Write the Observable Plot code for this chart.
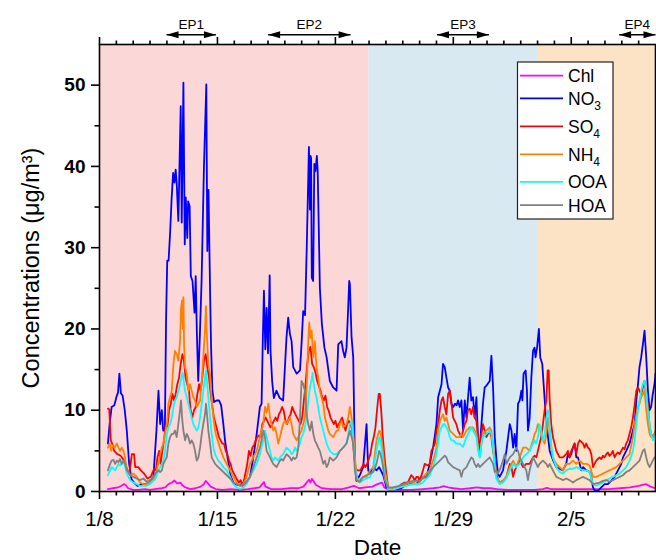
<!DOCTYPE html>
<html><head><meta charset="utf-8">
<script src="https://cdn.jsdelivr.net/npm/d3@7"></script>
<script src="https://cdn.jsdelivr.net/npm/@observablehq/plot@0.6"></script>
<style>
body{margin:0;background:#fff;}
#wrap{position:relative;width:656px;height:560px;font-family:"Liberation Sans",Arial,sans-serif;}
</style></head>
<body><div id="wrap"></div>
<script>
// x values: days since 1/8 00:00
const xTickDays = [0, 7, 14, 21, 28];
const xTickLabels = ["1/8", "1/15", "1/22", "1/29", "2/5"];
const yTicks = [0, 10, 20, 30, 40, 50];
const yMinorTicks = [5, 15, 25, 35, 45];

const periodStart = [0, 16, 26];
const periodEnd = [16, 26, 33];

const epLabels = ["EP1", "EP2", "EP3", "EP4"];
const epStart = [3.98, 10.01, 20.03, 30.84];
const epEnd = [6.91, 14.9, 23.11, 33.0];

const seriesNames = ["Chl", "NO3", "SO4", "NH4", "OOA", "HOA"];

const Chl = [[0.5,0.3],[0.8,0.4],[1.1,0.5],[1.3,0.7],[1.45,0.9],[1.55,0.8],[1.7,0.4],[2.0,0.2],[2.3,0.2],[2.7,0.3],[3.0,0.2],[3.3,0.3],[3.7,0.4],[3.9,0.5],[4.1,0.9],[4.3,1.1],[4.45,1.35],[4.6,1.0],[4.8,1.1],[4.9,0.8],[5.1,0.5],[5.4,0.3],[5.7,0.4],[6.0,0.6],[6.2,0.9],[6.3,1.3],[6.4,1.1],[6.6,0.6],[6.9,0.3],[7.3,0.2],[7.8,0.3],[8.3,0.2],[8.8,0.3],[9.2,0.4],[9.5,0.5],[9.76,1.15],[9.85,0.6],[10.2,0.3],[10.8,0.3],[11.3,0.4],[11.8,0.4],[12.1,0.6],[12.3,1.1],[12.43,1.45],[12.52,1.1],[12.6,1.55],[12.7,1.3],[12.85,0.8],[13.2,0.4],[13.8,0.3],[14.4,0.3],[14.8,0.5],[15.1,0.7],[15.4,0.4],[15.8,0.5],[16.2,0.6],[16.5,0.9],[16.77,1.1],[16.9,0.5],[17.2,0.2],[17.8,0.2],[18.5,0.2],[19.2,0.3],[19.8,0.4],[20.2,0.5],[20.43,0.65],[20.7,0.5],[21.0,0.4],[21.5,0.3],[22.0,0.4],[22.4,0.5],[22.8,0.4],[23.2,0.4],[23.6,0.3],[24.2,0.2],[25.0,0.2],[25.8,0.2],[26.3,0.3],[26.55,0.45],[26.8,0.3],[27.3,0.3],[28.0,0.3],[28.7,0.3],[29.4,0.3],[30.2,0.3],[30.9,0.4],[31.5,0.5],[32.0,0.7],[32.29,0.85],[32.45,0.9],[32.7,0.6],[33.0,0.4]];

const NO3 = [[0.5,5.9],[0.6,8.3],[0.72,10.4],[0.88,10.6],[1.0,11.6],[1.1,12.2],[1.18,14.5],[1.27,12.1],[1.37,11.8],[1.5,10],[1.62,7.5],[1.76,3.4],[1.9,1.5],[2.05,1.1],[2.25,0.7],[2.5,0.9],[2.75,0.9],[3.0,1.1],[3.2,1.8],[3.38,7.5],[3.5,12.4],[3.6,8.3],[3.7,10],[3.78,7.5],[3.88,7.5],[3.95,21],[4.02,28.4],[4.1,28.4],[4.19,31.8],[4.28,36],[4.37,39.2],[4.45,38],[4.52,39.6],[4.58,38],[4.68,33.3],[4.82,47.4],[4.88,33.1],[4.98,50.3],[5.06,30.4],[5.12,36.2],[5.21,31.2],[5.26,35.7],[5.35,35.1],[5.42,26.5],[5.52,25.9],[5.64,22],[5.71,26.5],[5.78,19.4],[5.86,13.6],[5.96,19.4],[6.06,26],[6.2,40],[6.34,50.1],[6.4,29.6],[6.47,37.1],[6.56,25],[6.62,18],[6.7,12.4],[6.8,11],[6.95,11.2],[7.1,11.2],[7.22,10.6],[7.35,8.3],[7.45,6.3],[7.6,4.2],[7.8,1.8],[8.0,0.9],[8.3,0.8],[8.5,0.9],[8.75,1.2],[8.93,1.8],[9.13,4.2],[9.33,7.1],[9.52,10.4],[9.62,10.8],[9.7,19.4],[9.76,24.7],[9.84,17.5],[9.92,22.6],[10.0,17],[10.1,26.6],[10.15,17.3],[10.25,13.5],[10.35,11.5],[10.5,12.4],[10.7,11.5],[10.9,11.2],[11.1,19],[11.2,21.4],[11.3,19.4],[11.4,18.5],[11.5,15.3],[11.7,14.5],[11.9,14.9],[12.0,18.5],[12.09,22.2],[12.2,21.7],[12.3,30],[12.43,42.4],[12.49,34.7],[12.52,41.3],[12.56,41],[12.6,26.3],[12.68,25.9],[12.75,40.3],[12.82,39.4],[12.9,41.3],[12.95,39.4],[13.0,34],[13.08,25],[13.2,20.6],[13.35,17.7],[13.48,16.5],[13.67,13.6],[13.87,12.8],[14.07,12.4],[14.17,18.1],[14.36,18.5],[14.46,17.3],[14.56,16.5],[14.66,17.7],[14.76,22.6],[14.82,25.9],[14.86,25.5],[14.96,19],[15.06,16.5],[15.16,3.4],[15.25,1.3],[15.45,2.0],[15.65,3],[15.85,8.3],[15.95,2.6],[16.05,2.2],[16.25,3],[16.44,2.6],[16.6,3],[16.84,2],[17.03,0.5],[17.3,0.3],[17.6,0.3],[17.9,0.4],[18.2,0.8],[18.4,1.1],[18.8,0.9],[19.2,1.8],[19.4,1.8],[19.6,3.4],[19.8,5.4],[20.0,8.3],[20.1,11.6],[20.2,12.4],[20.3,13.2],[20.39,15.7],[20.49,15.3],[20.59,14],[20.69,12.8],[20.79,12.4],[20.89,10.8],[21.0,10.4],[21.1,10.8],[21.2,10.6],[21.28,11.2],[21.38,10.4],[21.48,11.2],[21.58,7.5],[21.68,11.2],[21.78,9.1],[21.97,14],[22.07,11.2],[22.17,11.6],[22.27,9.1],[22.37,11.6],[22.47,6.3],[22.57,5.4],[22.67,8.3],[22.76,10.8],[22.86,12.8],[22.96,13],[23.16,13.6],[23.26,16.7],[23.36,12.8],[23.46,6.7],[23.55,4.2],[23.65,2.2],[23.75,1.8],[23.95,2.6],[24.15,5],[24.35,8.3],[24.45,7.5],[24.55,5.4],[24.64,7.1],[24.74,5],[24.84,10.8],[24.94,11.2],[25.04,12.4],[25.1,11.2],[25.17,14.5],[25.29,14.9],[25.37,12.4],[25.43,7.5],[25.53,9],[25.63,14],[25.73,17.3],[25.82,17.7],[25.88,16.5],[25.97,17.7],[26.08,20],[26.16,16.5],[26.28,15.7],[26.36,13.2],[26.48,9.5],[26.62,6.7],[26.72,5],[26.93,3.8],[27.11,3],[27.31,2.8],[27.5,2.6],[27.7,3.4],[27.8,4.6],[27.9,4.2],[28.0,4.6],[28.1,5.4],[28.2,5.9],[28.3,4.2],[28.4,4.2],[28.5,3.4],[28.6,2.6],[28.7,3],[28.9,2.6],[29.1,2.4],[29.19,1.8],[29.29,0.5],[29.4,0.1],[29.6,0.1],[29.78,0.5],[29.98,0.9],[30.17,0.9],[30.37,1.3],[30.57,1.8],[30.77,2.6],[30.97,3.4],[31.07,4.2],[31.26,5],[31.46,5.9],[31.66,7.5],[31.76,8.3],[31.86,11.2],[31.96,13.2],[32.05,15.3],[32.15,16.5],[32.25,18.1],[32.35,19.8],[32.45,16.5],[32.55,12.4],[32.65,10],[32.74,10.4],[32.84,12],[32.94,13.2],[33.0,14.5]];

const SO4 = [[0.5,10.2],[0.58,10.1],[0.67,6.3],[0.75,5.9],[0.87,5],[1.06,4.6],[1.26,4.4],[1.46,3.8],[1.66,2.6],[1.76,2.2],[1.85,3.4],[1.92,4.6],[2.05,4.6],[2.12,3],[2.3,3],[2.45,2.6],[2.65,2.2],[2.84,1.6],[3.04,1.8],[3.24,2.8],[3.35,2.6],[3.44,4.2],[3.54,5],[3.63,3.4],[3.73,5],[3.83,6.3],[3.93,8.3],[4.03,8],[4.13,10],[4.23,10.8],[4.33,12],[4.43,11.2],[4.52,12],[4.62,13.2],[4.72,14],[4.82,15.7],[4.92,16.9],[5.01,16.1],[5.11,14],[5.21,13.2],[5.31,12.4],[5.41,10],[5.51,9.1],[5.61,10],[5.71,10.4],[5.81,12],[5.91,13.2],[6.0,12.4],[6.1,14],[6.2,16.1],[6.3,16.9],[6.4,15.3],[6.5,14],[6.6,12],[6.7,10.4],[6.79,9.1],[6.89,8.3],[6.99,7.5],[7.09,6.7],[7.19,6.3],[7.29,5.9],[7.39,5.9],[7.49,5],[7.59,4.6],[7.69,3.8],[7.78,3.4],[7.88,2.6],[7.98,2.2],[8.18,1.4],[8.28,1.1],[8.38,1.4],[8.48,0.7],[8.58,1.4],[8.77,3.4],[8.87,5],[8.97,4.4],[9.07,5.4],[9.17,5.7],[9.27,6.3],[9.36,6.7],[9.46,6.9],[9.56,6.7],[9.66,8.3],[9.76,8.7],[9.86,9.1],[9.96,8.7],[10.05,8.3],[10.15,7.9],[10.25,8.3],[10.35,8.7],[10.45,9.1],[10.55,8.7],[10.65,9.5],[10.75,9.9],[10.84,10.4],[10.94,9.9],[11.04,8.7],[11.14,8.3],[11.24,9.1],[11.34,9.5],[11.44,10.4],[11.54,9.9],[11.63,9.5],[11.73,9.1],[11.83,8.7],[11.93,8.3],[12.03,9.1],[12.13,11.2],[12.23,13.2],[12.33,15.7],[12.42,17.3],[12.52,17.8],[12.62,15.7],[12.72,15.3],[12.82,14.6],[12.92,13.6],[13.02,13],[13.12,12.4],[13.22,11.6],[13.31,11.2],[13.41,11.8],[13.51,10.4],[13.61,9.9],[13.71,9.1],[13.81,8.7],[13.91,8.3],[14.0,8.7],[14.1,7.9],[14.2,8.3],[14.3,8.7],[14.4,9.1],[14.5,8.3],[14.6,7.5],[14.7,8.3],[14.8,8.7],[14.9,8.3],[15.0,7.5],[15.09,5],[15.19,3],[15.29,2.6],[15.48,2.6],[15.58,3],[15.68,3.4],[15.78,3],[15.88,3.4],[15.98,4],[16.08,4.6],[16.18,5.9],[16.28,6.7],[16.38,7.9],[16.47,10],[16.57,12],[16.64,12],[16.72,10],[16.8,7.1],[16.9,4.6],[17.0,2.6],[17.13,0.5],[17.3,0.4],[17.53,0.4],[17.7,0.5],[17.92,0.9],[18.1,1.1],[18.3,1.1],[18.5,2],[18.61,1.8],[18.71,1.3],[18.81,1.8],[18.91,1.8],[19.0,1.3],[19.2,2.6],[19.3,3.4],[19.5,3.2],[19.6,3.4],[19.7,5],[19.8,5.4],[19.9,5.9],[20.0,7.5],[20.1,8.3],[20.2,10],[20.3,11.2],[20.39,11.6],[20.49,10.4],[20.59,9.5],[20.69,12],[20.79,12.4],[20.89,10.8],[20.99,9.1],[21.18,8.3],[21.28,7.5],[21.38,7.1],[21.48,6.7],[21.58,7.5],[21.68,8.3],[21.78,8.7],[21.87,10],[21.97,10.2],[22.07,9.5],[22.17,10.4],[22.27,9.1],[22.37,8.7],[22.47,6.7],[22.57,4.6],[22.67,7.1],[22.76,8.3],[22.86,7.5],[22.96,6.7],[23.06,7.1],[23.16,7.5],[23.26,6.7],[23.36,5],[23.46,3.8],[23.55,2.2],[23.65,1.4],[23.75,1.1],[23.95,1.3],[24.15,1.8],[24.35,3.4],[24.45,3],[24.55,1.8],[24.65,2.6],[24.74,3],[24.94,3.8],[25.14,3],[25.33,3.4],[25.53,3.4],[25.73,4.2],[25.83,4.4],[25.93,4.2],[26.02,5],[26.12,5.9],[26.22,6.7],[26.32,8.3],[26.42,10],[26.52,11.2],[26.6,14.9],[26.66,14.9],[26.72,11.2],[26.81,8.3],[26.91,6.7],[27.01,5.9],[27.11,5],[27.21,4.6],[27.31,4.2],[27.5,4.2],[27.7,4.6],[27.8,5],[27.9,4.2],[28.0,5],[28.1,5.4],[28.2,5.9],[28.3,4.6],[28.4,5.9],[28.5,6.3],[28.6,6.1],[28.7,5.9],[28.79,5.4],[28.89,5.9],[28.99,5.4],[29.09,5.2],[29.19,4.6],[29.29,3],[29.38,3.4],[29.48,3.8],[29.58,4],[29.68,4.2],[29.78,4],[29.88,4.4],[29.98,4.2],[30.08,4.6],[30.17,4.8],[30.27,4.4],[30.37,4.6],[30.47,5],[30.57,4.2],[30.67,4.6],[30.77,4.8],[30.87,4.6],[30.97,5],[31.07,5.4],[31.16,5.2],[31.26,5.9],[31.36,6.3],[31.46,7.1],[31.56,7.9],[31.66,9.1],[31.76,10.6],[31.86,12.4],[31.96,12.8],[32.05,12.4],[32.15,12],[32.25,12.8],[32.35,13.6],[32.45,11.6],[32.55,10.8],[32.65,7.9],[32.74,7.1],[32.84,6.7],[32.94,7.1],[33.0,7.1]];

const NH4 = [[0.5,5.4],[0.6,5.9],[0.7,5],[0.8,5.7],[0.9,5.4],[1.03,5.9],[1.13,5.4],[1.22,5],[1.32,5.4],[1.42,5],[1.52,4.2],[1.62,2.6],[1.72,2.4],[1.82,2],[2.01,2.2],[2.21,1.8],[2.41,1.1],[2.6,0.9],[2.8,0.9],[3.0,1.1],[3.2,1.5],[3.3,2],[3.4,2.6],[3.5,3.6],[3.6,4.6],[3.7,5.4],[3.79,5.9],[3.89,7.1],[4.0,8.3],[4.09,10.8],[4.19,11.6],[4.29,12.4],[4.39,15.7],[4.48,17.3],[4.58,16.9],[4.68,16.1],[4.78,18.5],[4.84,22.6],[4.9,23.5],[4.94,20],[4.98,23.9],[5.02,18],[5.08,15.3],[5.18,14.5],[5.27,12.4],[5.37,13.2],[5.47,12.4],[5.57,11.6],[5.67,11.2],[5.77,10.4],[5.87,10.8],[5.97,11.2],[6.07,13.6],[6.16,16.5],[6.26,19.8],[6.32,22.8],[6.36,19.8],[6.46,15.7],[6.56,14.5],[6.66,11.2],[6.76,9.1],[6.86,7.5],[6.95,6.7],[7.15,5.4],[7.35,4.2],[7.55,3.4],[7.75,2.6],[7.94,1.8],[8.14,1.1],[8.34,0.7],[8.54,0.9],[8.73,1.8],[8.93,3.4],[9.13,4.2],[9.33,5],[9.52,6.7],[9.72,8.3],[9.82,10.4],[9.92,9.7],[10.02,10.8],[10.12,9.1],[10.21,8.3],[10.31,7.5],[10.41,7.9],[10.51,7.1],[10.61,5.9],[10.71,6.7],[10.8,7.5],[10.9,8.3],[11.0,8.7],[11.1,8.3],[11.2,8.7],[11.3,9.1],[11.4,8.3],[11.5,7.1],[11.6,6.7],[11.7,6.3],[11.8,6.7],[11.9,7.1],[11.99,7.5],[12.09,8.3],[12.19,9.1],[12.29,12.4],[12.39,18.5],[12.45,20.8],[12.52,18.9],[12.59,19.8],[12.69,16.5],[12.78,18.5],[12.88,15.3],[12.98,14],[13.08,12.4],[13.18,11.6],[13.28,10.8],[13.38,9.1],[13.48,8.3],[13.58,7.5],[13.67,7.1],[13.87,6.7],[14.07,7.5],[14.17,7.5],[14.27,8.3],[14.37,8.7],[14.46,7.9],[14.66,8.3],[14.76,9.1],[14.86,10.4],[14.96,9.1],[15.06,7.5],[15.16,4.2],[15.25,2.2],[15.35,1.2],[15.45,1.4],[15.65,1.8],[15.85,1.8],[16.05,2.6],[16.25,3],[16.44,6.3],[16.6,7.5],[16.68,7.3],[16.8,5.4],[16.93,2.6],[17.13,0.5],[17.4,0.3],[17.8,0.5],[18.22,0.9],[18.41,1.1],[18.61,1.1],[18.81,0.9],[19.0,1.1],[19.2,1.8],[19.4,2.2],[19.6,2.6],[19.8,3.8],[20.0,5.4],[20.1,7.5],[20.2,8.7],[20.29,9.1],[20.39,9.5],[20.49,8.7],[20.59,9.1],[20.69,8.3],[20.79,7.5],[20.99,7.1],[21.18,6.7],[21.38,6.7],[21.48,7.1],[21.58,6.7],[21.78,7.5],[21.97,7.9],[22.17,7.9],[22.27,7.5],[22.37,7.1],[22.47,5.4],[22.57,4.2],[22.67,5.9],[22.76,7.1],[22.96,7.5],[23.16,7.9],[23.26,7.5],[23.36,5.9],[23.46,3.4],[23.55,1.8],[23.75,1.1],[23.95,1.3],[24.15,1.8],[24.35,3],[24.55,3.8],[24.74,3],[24.94,4.2],[25.14,5.4],[25.33,5.4],[25.53,5],[25.73,6.3],[25.83,7.1],[25.93,7.5],[26.02,8.3],[26.12,7.9],[26.22,7.1],[26.32,6.3],[26.42,5.9],[26.52,7.1],[26.62,9.1],[26.72,7.5],[26.81,5.4],[26.91,4.2],[27.11,3.4],[27.31,3],[27.51,2.6],[27.7,3.4],[27.9,3.4],[28.1,3.8],[28.3,3.4],[28.5,3.8],[28.69,3.4],[28.89,3.4],[29.09,3.2],[29.29,1.8],[29.48,1.8],[29.68,2],[29.88,2.2],[30.07,2.4],[30.27,2.6],[30.47,2.8],[30.67,3],[30.87,3.4],[31.07,3.8],[31.26,4.2],[31.46,4.6],[31.66,6.7],[31.76,8.3],[31.86,9.5],[31.96,10.4],[32.05,10.8],[32.15,11.6],[32.25,12],[32.35,12.4],[32.45,10],[32.55,8.3],[32.65,7.1],[32.74,6.7],[32.84,6.7],[32.94,7.1],[33.0,7.5]];

const OOA = [[0.5,2],[0.63,2.6],[0.72,3],[0.83,2.8],[0.93,2.6],[1.03,3],[1.12,3.4],[1.22,3.2],[1.32,3.4],[1.42,3.8],[1.52,3],[1.62,2.2],[1.72,1.8],[1.82,1.4],[2.01,1.1],[2.21,0.9],[2.41,0.7],[2.8,0.7],[3.0,0.9],[3.2,1.3],[3.3,1.5],[3.4,2],[3.5,2.6],[3.6,3],[3.7,3.4],[3.79,3.8],[3.89,5],[4.0,7.1],[4.09,7.9],[4.19,8.3],[4.29,9.1],[4.39,10.4],[4.48,11.2],[4.58,11.6],[4.68,12.4],[4.78,13.2],[4.87,14.2],[4.94,14.6],[4.98,13.8],[5.08,12.4],[5.18,11.6],[5.27,10.8],[5.37,10],[5.47,9.1],[5.57,8.3],[5.67,7.9],[5.77,7.5],[5.87,7.9],[5.97,9.1],[6.07,10.8],[6.16,12.4],[6.26,14],[6.32,14.9],[6.36,14],[6.46,11.6],[6.56,9.1],[6.66,7.1],[6.76,5.4],[6.86,4.6],[6.95,4.2],[7.05,3.8],[7.15,3.6],[7.35,3],[7.55,2.6],[7.75,1.8],[7.94,0.9],[8.14,0.5],[8.34,0.3],[8.54,0.5],[8.73,0.9],[8.93,1.8],[9.13,2.6],[9.33,3.4],[9.52,4.6],[9.72,6.3],[9.82,7.5],[9.92,6.7],[10.02,5.9],[10.12,5],[10.21,4.2],[10.31,3.8],[10.41,4.2],[10.51,4],[10.61,3.8],[10.71,4.2],[10.9,4.6],[11.0,5],[11.1,5.4],[11.2,5.2],[11.3,5],[11.4,4.6],[11.5,4.8],[11.6,5.4],[11.7,5],[11.9,5.9],[11.99,6.7],[12.09,7.1],[12.19,7.9],[12.29,9.1],[12.39,11.2],[12.49,12.8],[12.59,13.8],[12.65,14.6],[12.69,13.6],[12.78,12.4],[12.88,11.6],[12.98,10.4],[13.08,9.1],[13.18,8.3],[13.28,7.5],[13.38,6.7],[13.48,5.9],[13.58,5.4],[13.67,5],[13.87,4.6],[14.07,4.6],[14.27,5],[14.46,5.4],[14.66,5.9],[14.76,7.1],[14.86,8.3],[14.96,8.7],[15.06,6.3],[15.16,3.4],[15.25,1.8],[15.45,1.1],[15.65,1.4],[15.85,1.6],[16.05,1.8],[16.25,2.6],[16.44,5],[16.6,6.7],[16.68,6.3],[16.8,4.2],[16.93,1.8],[17.13,0.3],[17.4,0.2],[17.8,0.5],[18.22,0.7],[18.61,0.9],[19.0,0.9],[19.2,1.1],[19.4,1.6],[19.6,2],[19.8,3],[20.0,4.6],[20.1,5.9],[20.2,7.5],[20.29,7.9],[20.39,8.3],[20.49,8.3],[20.59,7.9],[20.69,7.5],[20.79,6.7],[20.89,6.3],[20.99,6.3],[21.18,5.9],[21.38,5.9],[21.58,5.5],[21.78,6.7],[21.97,7.5],[22.07,7.9],[22.17,7.5],[22.27,7.1],[22.37,6.7],[22.47,5],[22.57,4.2],[22.67,5.9],[22.76,6.7],[22.96,7.1],[23.16,7.5],[23.26,7.1],[23.36,5.4],[23.46,3],[23.55,1.6],[23.75,0.9],[23.95,1.1],[24.15,1.6],[24.35,2.6],[24.55,3.4],[24.74,3],[24.94,3.4],[25.14,4.2],[25.33,4.6],[25.53,5],[25.73,5.9],[25.83,6.3],[25.93,5.9],[26.02,6.7],[26.12,8.3],[26.22,7.5],[26.32,6.3],[26.42,7.1],[26.52,9.1],[26.62,10],[26.68,9.5],[26.72,7.9],[26.81,5.9],[26.91,4.2],[27.11,3],[27.31,2.4],[27.51,2.2],[27.7,2.6],[27.9,2.8],[28.1,2.8],[28.3,3],[28.5,2.8],[28.69,2.6],[28.89,2.6],[29.09,2.4],[29.29,0.9],[29.48,0.7],[29.68,0.9],[29.88,1.1],[30.07,1.4],[30.27,1.6],[30.47,1.8],[30.67,2],[30.87,2.2],[31.07,2.6],[31.26,3],[31.46,3.8],[31.66,5],[31.76,6.3],[31.86,8.3],[31.96,10],[32.05,11.2],[32.15,12.4],[32.25,13.2],[32.35,13.6],[32.45,12],[32.55,10],[32.65,8.3],[32.74,7.1],[32.84,6.3],[32.94,6.7],[33.0,7.1]];

const HOA = [[0.5,2.6],[0.63,3.4],[0.72,3.8],[0.83,3.9],[0.93,3.4],[1.03,3.8],[1.12,3.6],[1.22,4],[1.32,3.4],[1.42,3.8],[1.52,3.4],[1.62,2.6],[1.72,2.4],[1.82,2],[2.01,1.8],[2.21,1.6],[2.41,1.4],[2.6,1.6],[2.8,1.2],[3.0,1.4],[3.2,1.8],[3.3,2.2],[3.4,2.4],[3.5,2.6],[3.6,2.4],[3.7,2.6],[3.79,3.4],[3.89,3.8],[3.99,4.2],[4.09,5.9],[4.19,6.7],[4.29,7.1],[4.39,7.1],[4.48,7.5],[4.58,6.7],[4.68,8.3],[4.78,10],[4.84,11.2],[4.9,9.1],[4.98,7.5],[5.08,6.3],[5.18,7.1],[5.27,6.7],[5.37,5.9],[5.47,6.3],[5.57,5.9],[5.67,5],[5.77,3.8],[5.87,4.2],[5.97,5.4],[6.07,7.1],[6.16,8.3],[6.26,9.5],[6.32,10.8],[6.36,10],[6.46,7.5],[6.56,5.9],[6.66,4.2],[6.76,3.8],[6.86,3.4],[6.95,3.2],[7.05,3],[7.15,2.8],[7.35,2.4],[7.55,2],[7.75,1.6],[7.94,1.1],[8.14,0.9],[8.34,0.7],[8.54,0.8],[8.73,1.2],[8.93,1.8],[9.13,3],[9.33,4.2],[9.52,5.4],[9.62,6.3],[9.72,7.5],[9.82,6.7],[9.92,5],[10.02,4.6],[10.12,4.2],[10.21,3.8],[10.31,3.4],[10.41,3.2],[10.51,3],[10.61,3.4],[10.71,3.8],[10.8,4],[10.9,3.8],[11.0,4.2],[11.1,4.6],[11.2,4.4],[11.3,4.2],[11.4,3.8],[11.5,4.2],[11.6,4],[11.7,4.2],[11.8,5.4],[11.9,9],[11.99,13.6],[12.09,13.2],[12.19,12.4],[12.29,9.5],[12.39,8.3],[12.49,7.5],[12.59,8.6],[12.69,7.1],[12.78,6.3],[12.88,5.9],[12.98,5.4],[13.08,5],[13.18,4.2],[13.28,3.4],[13.38,3.8],[13.48,3],[13.58,3.4],[13.67,4.2],[13.87,3.8],[14.07,4.2],[14.17,4.6],[14.27,5],[14.46,5.4],[14.66,5.9],[14.76,6.7],[14.86,7.5],[14.96,6.7],[15.06,5.9],[15.16,2.6],[15.25,1.4],[15.45,1.2],[15.65,1.8],[15.85,2],[16.05,2.2],[16.25,2.4],[16.44,3.4],[16.6,5],[16.68,4.6],[16.8,3.4],[16.93,1.4],[17.13,0.5],[17.4,0.5],[17.8,0.7],[18.22,1.1],[18.61,1.3],[19.0,1.3],[19.2,1.6],[19.4,1.8],[19.6,2.4],[19.8,3],[20.0,3.4],[20.2,3.8],[20.39,4.2],[20.49,4.4],[20.59,4.2],[20.69,3.6],[20.79,3.4],[20.99,3],[21.18,2.8],[21.38,2.6],[21.48,1.8],[21.58,2.6],[21.78,3],[21.97,3.8],[22.07,4.2],[22.17,4],[22.27,3.4],[22.37,3],[22.47,3.4],[22.57,3],[22.76,3.4],[22.96,3.8],[23.16,4.2],[23.26,3.8],[23.36,3.4],[23.46,2.4],[23.55,2.6],[23.65,2.2],[23.75,2.6],[23.95,3.8],[24.05,4.6],[24.15,3.4],[24.35,4.2],[24.55,4.6],[24.74,5.4],[24.84,5],[24.94,4.2],[25.14,3.4],[25.33,2.6],[25.43,1.4],[25.53,2.6],[25.63,3.4],[25.73,4.2],[25.93,3.4],[26.02,3],[26.12,3.4],[26.32,3.8],[26.52,3.4],[26.62,3],[26.72,3.4],[26.91,2.6],[27.11,1.8],[27.31,1.6],[27.51,1.4],[27.7,1.6],[27.9,1.4],[28.1,1.1],[28.3,1.4],[28.5,1.6],[28.69,1.8],[28.89,1.6],[29.09,1.4],[29.29,0.9],[29.48,1],[29.68,1.1],[29.88,1.3],[30.07,1.4],[30.27,1.2],[30.47,1.4],[30.67,1.6],[30.87,1.8],[31.07,2],[31.26,2.4],[31.46,2.6],[31.66,3],[31.86,3.4],[32.05,3.8],[32.15,4.4],[32.25,5],[32.35,5.2],[32.45,4.2],[32.55,3.4],[32.65,3],[32.74,3.4],[32.84,3.8],[32.94,4.2],[33.0,4.2]];

// ---- styles ----
const seriesData = [Chl, NO3, SO4, NH4, OOA, HOA];
const seriesColors = ["#ff00ff", "#0000ff", "#ff0000", "#ff8000", "#00ffff", "#808080"];
const periodColors = ["#fcd7d7", "#d9e9f2", "#fde3c6"];
const FONT = "Liberation Sans, Arial, Helvetica, sans-serif";

const periods = periodStart.map((s, i) => ({x1: s, x2: periodEnd[i], fill: periodColors[i]}));
const eps = epLabels.map((l, i) => ({label: l, x1: epStart[i], x2: epEnd[i], mid: (epStart[i] + epEnd[i]) / 2}));

const headRight = {draw(ctx) { ctx.moveTo(0, 0); ctx.lineTo(-12, -3.6); ctx.lineTo(-12, 3.6); ctx.closePath(); }};
const headLeft = {draw(ctx) { ctx.moveTo(0, 0); ctx.lineTo(12, -3.6); ctx.lineTo(12, 3.6); ctx.closePath(); }};

const yArrow = 56.2, yEpText = 57.45;
const minorDays = d3.range(1, 33).filter(d => d % 7 !== 0);

const lineMarks = seriesData.map((data, i) =>
  Plot.line(data, {x: d => d[0], y: d => d[1], stroke: seriesColors[i], strokeWidth: 1.8, clip: true}));

const chart = Plot.plot({
  width: 656, height: 560,
  marginLeft: 99, marginRight: 1, marginTop: 44, marginBottom: 69,
  style: {fontFamily: FONT, color: "#000", background: "transparent"},
  x: {domain: [0, 33]},
  y: {domain: [0, 55]},
  marks: [
    Plot.rect(periods, {x1: "x1", x2: "x2", y1: 0, y2: 55, fill: "fill"}),
    ...lineMarks,
    Plot.frame({stroke: "#000", strokeWidth: 1.6}),
    Plot.axisY({ticks: yTicks, tickSize: 8, tickPadding: 6, fontSize: 19, fontWeight: "bold", strokeWidth: 1.6, label: null}),
    Plot.axisY({ticks: yMinorTicks, tickSize: 4.5, tickFormat: () => "", strokeWidth: 1.6, label: null}),
    Plot.axisX({anchor: "bottom", ticks: xTickDays, tickSize: 8, tickPadding: 12, fontSize: 20.5,
      tickFormat: d => xTickLabels[xTickDays.indexOf(d)], strokeWidth: 1.6, label: null}),
    Plot.axisX({anchor: "bottom", ticks: minorDays, tickSize: 4.5, tickFormat: () => "", strokeWidth: 1.6, label: null}),
    Plot.axisX({anchor: "top", ticks: xTickDays, tickSize: 8, tickFormat: () => "", strokeWidth: 1.6, label: null}),
    Plot.axisX({anchor: "top", ticks: minorDays, tickSize: 4.5, tickFormat: () => "", strokeWidth: 1.6, label: null}),
    Plot.link(eps, {x1: "x1", x2: "x2", y1: yArrow, y2: yArrow, stroke: "#000", strokeWidth: 1.4}),
    Plot.dot(eps, {x: "x1", y: yArrow, symbol: headLeft, fill: "#000", stroke: null}),
    Plot.dot(eps, {x: "x2", y: yArrow, symbol: headRight, fill: "#000", stroke: null}),
    Plot.text(eps, {x: "mid", y: yEpText, text: "label", fontSize: 13.5, fill: "#000"}),
    Plot.text(["Concentrations (μg/m³)"], {frameAnchor: "left", textAnchor: "middle", text: d => d, rotate: -90, dx: -68, fontSize: 23.5, fill: "#000"}),
    Plot.text(["Date"], {frameAnchor: "bottom", text: d => d, dy: 63, fontSize: 22.5, fill: "#000"})
  ]
});

const wrap = document.getElementById("wrap");
wrap.appendChild(chart);

// legend (inside plot area, upper right)
const rowY = [75.7, 98.3, 126.3, 154.3, 181.8, 205.2];
const lg = d3.select(wrap).append("svg")
  .attr("width", 656).attr("height", 560)
  .style("position", "absolute").style("left", "0px").style("top", "0px")
  .style("font-family", FONT);
lg.append("rect").attr("x", 517.5).attr("y", 62).attr("width", 95.5).attr("height", 157)
  .attr("fill", "#fff").attr("stroke", "#222").attr("stroke-width", 1.2);
seriesNames.forEach((name, i) => {
  const y = rowY[i];
  lg.append("line").attr("x1", 520).attr("x2", 563).attr("y1", y).attr("y2", y)
    .attr("stroke", seriesColors[i]).attr("stroke-width", 1.8);
  const m = name.match(/^(.*?)(\d)$/);
  const t = lg.append("text").attr("x", 568).attr("y", y + 6.3).attr("font-size", 17.5).attr("fill", "#000");
  if (m) {
    t.append("tspan").text(m[1]);
    t.append("tspan").text(m[2]).attr("font-size", 12).attr("dy", 5.5);
  } else {
    t.text(name);
  }
});
</script>
</body></html>
